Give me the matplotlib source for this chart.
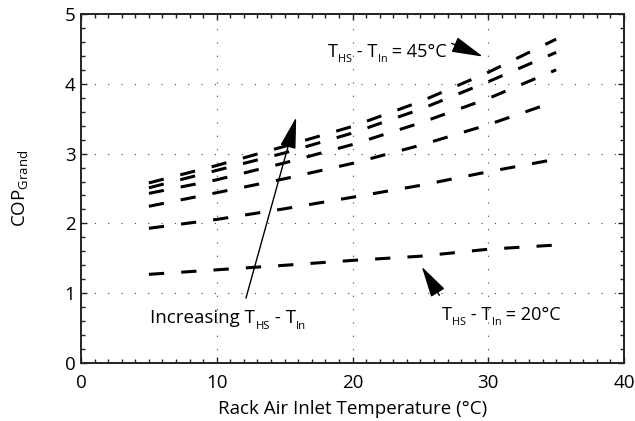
import numpy as np
import matplotlib
matplotlib.use("Agg")
import matplotlib.pyplot as plt
from matplotlib.ticker import MultipleLocator

plt.rcParams['font.family'] = ['Open Sans', 'DejaVu Sans']

# rack air inlet temperature (C)
t_in = [5, 10, 15, 20, 25, 30, 35]

# COP_Grand for T_HS - T_In = 20, 25, 30, 35, 40, 45 C
cop_20 = [1.27, 1.335, 1.40, 1.47, 1.53, 1.63, 1.69]
cop_25 = [1.93, 2.057, 2.21, 2.375, 2.545, 2.74, 2.92]
cop_30 = [2.245, 2.44, 2.64, 2.86, 3.12, 3.415, 3.75]
cop_35 = [2.43, 2.625, 2.867, 3.13, 3.44, 3.79, 4.20]
cop_40 = [2.51, 2.76, 3.01, 3.295, 3.635, 4.03, 4.45]
cop_45 = [2.58, 2.83, 3.105, 3.39, 3.745, 4.165, 4.64]

FS = 13.5


def sub_text(ax, x, y, parts, size=FS, **kw):
    """write text runs one after another, (string, is_subscript)"""
    first = ax.text(x, y, parts[0][0], fontsize=size, va='baseline', **kw)
    base = prev = first
    for s, sub in parts[1:]:
        if sub:
            t = ax.annotate(s, xy=(1, 0), xycoords=(prev, base),
                            xytext=(0.2, -3.2), textcoords='offset points',
                            fontsize=size * 0.6, va='bottom', **kw)
        else:
            t = ax.annotate(s, xy=(1, 0), xycoords=(prev, base),
                            fontsize=size, va='bottom', **kw)
            base = t
        prev = t
    return first


fig = plt.figure(figsize=(6.35, 4.21), dpi=100)
ax = fig.add_axes([0.1276, 0.1378, 0.8551, 0.8289])

for cop in [cop_20, cop_25, cop_30, cop_35, cop_40, cop_45]:
    ax.plot(t_in, cop, color='black', lw=2.2, dashes=(5, 5.6),
            solid_capstyle='butt', dash_capstyle='butt')

ax.set_xlim(0, 40)
ax.set_ylim(0, 5)
ax.xaxis.set_major_locator(MultipleLocator(10))
ax.xaxis.set_minor_locator(MultipleLocator(1))
ax.yaxis.set_major_locator(MultipleLocator(1))
ax.yaxis.set_minor_locator(MultipleLocator(0.2))
ax.tick_params(which='both', direction='in', top=True, right=True,
               width=1.0, color='#222222')
ax.tick_params(which='major', length=4, labelsize=13.5)
ax.tick_params(axis='x', which='major', pad=8)
ax.tick_params(axis='y', which='major', pad=4)
ax.tick_params(which='minor', length=3)
ax.grid(True, which='major', color='#444444', lw=0.8, linestyle=(0, (1, 11)))
for s in ax.spines.values():
    s.set_linewidth(1.4)
    s.set_color('#222222')

ax.set_xlabel('Rack Air Inlet Temperature (°C)', fontsize=FS, labelpad=6)
ax.set_ylabel(r'COP$_\mathregular{Grand}$', fontsize=FS, labelpad=24)

arrow = dict(arrowstyle='-|>,head_length=1.3,head_width=0.33',
             mutation_scale=15, color='black', lw=1.0, shrinkA=0, shrinkB=0)

ax.annotate('', xy=(15.85, 3.52), xytext=(12.15, 0.93), arrowprops=arrow)
sub_text(ax, 5.1, 0.57, [('Increasing T', False), ('HS', True),
                         (' - T', False), ('In', True)])

ax.annotate('', xy=(25.1, 1.38), xytext=(26.4, 0.97), arrowprops=arrow)
sub_text(ax, 26.6, 0.62, [('T', False), ('HS', True), (' - T', False),
                          ('In', True), (' = 20°C', False)], size=13.1)

ax.annotate('', xy=(29.6, 4.39), xytext=(27.3, 4.58), arrowprops=arrow)
sub_text(ax, 18.2, 4.39, [('T', False), ('HS', True), (' - T', False),
                          ('In', True), (' = 45°C', False)], size=13.1)

fig.savefig('out.png', dpi=100)
